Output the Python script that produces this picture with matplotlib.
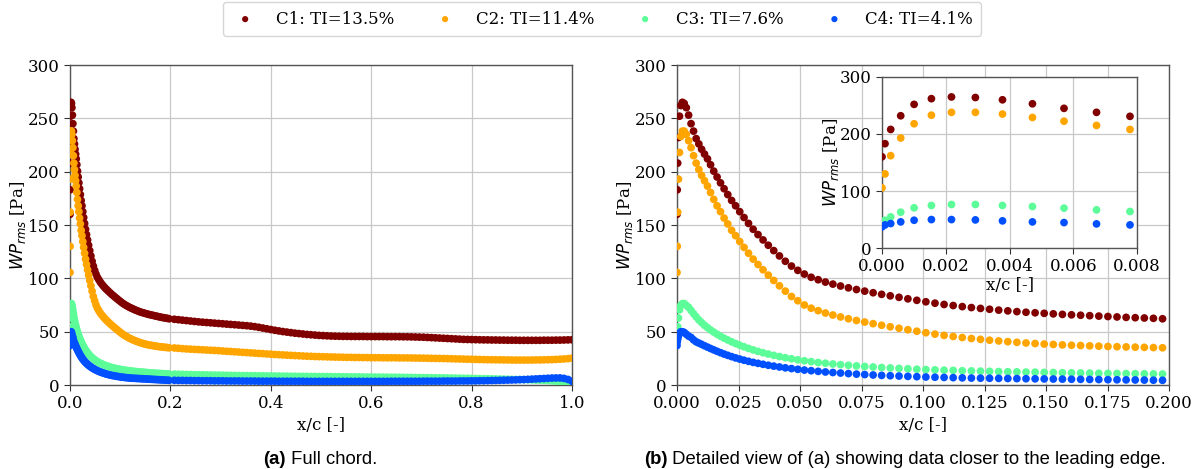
import matplotlib
matplotlib.use("Agg")
import matplotlib.pyplot as plt
import numpy as np

# ---- data -------------------------------------------------------------
labels = ["C1: TI=13.5%", "C2: TI=11.4%", "C3: TI=7.6%", "C4: TI=4.1%"]
colors = ["#800000", "#FFA500", "#5CFC98", "#0050FF"]

# sensor positions near the leading edge
x_le = [0.0, 0.000094, 0.000273, 0.000587, 0.001007, 0.00155, 0.00218, 0.00293,
        0.00378, 0.00472, 0.00571, 0.00673, 0.00778,
        0.00888, 0.01001, 0.01118, 0.01239, 0.01364, 0.01494, 0.01629, 0.01769,
        0.01914, 0.02064, 0.0222, 0.02382, 0.0255, 0.02725, 0.02907, 0.03096,
        0.03293, 0.03498, 0.03711, 0.03933, 0.04164, 0.04404, 0.04653, 0.04911,
        0.05178, 0.05454, 0.05739, 0.06033, 0.06336, 0.06648, 0.06968, 0.07296,
        0.07631, 0.07972, 0.08318, 0.08669, 0.09025, 0.09385, 0.09749, 0.10117,
        0.10487, 0.10857, 0.11227, 0.11597, 0.11967, 0.12337, 0.12707, 0.13077,
        0.13447, 0.13817, 0.14187, 0.14557, 0.14927, 0.15297, 0.15667, 0.16037,
        0.16407, 0.16777, 0.17147, 0.17517, 0.17887, 0.18257, 0.18627, 0.18997,
        0.19367, 0.19737]

c1_le = [160, 183, 208, 232, 252, 262, 265, 264, 260, 253, 245, 238, 231,
         226, 221, 216.5, 212, 206.5, 200.5, 195, 189.5, 184, 178.5, 173, 168,
         162.5, 157, 151.5, 146, 141, 136, 131, 126, 121, 116, 111.5, 107.5, 104,
         101, 98.7, 96.5, 94.6, 92.8, 91.1, 89.5, 88, 86.5, 85, 83.6, 82.2, 80.8,
         79.4, 78, 76.7, 75.5, 74.5, 73.5, 72.6, 71.8, 71.0, 70.2, 69.5, 68.8,
         68.2, 67.7, 67.2, 66.7, 66.2, 65.8, 65.4, 65.0, 64.6, 64.2, 63.8, 63.4,
         63.1, 62.8, 62.5, 62.1]
c2_le = [105.5, 130, 162, 193, 218, 233, 238, 238, 235, 229, 222.5, 215, 208,
         202, 196.5, 191.5, 186.5, 180.5, 174, 168, 162.5, 156.5, 151, 145, 140,
         134.5, 129, 123.5, 118, 113, 108, 103, 98, 93, 88, 83, 79, 75, 72, 69.7,
         67.5, 65.6, 63.8, 62.1, 60.5, 59, 57.5, 56, 54.6, 53.2, 51.8, 50.4, 49,
         47.7, 46.5, 45.5, 44.5, 43.6, 42.8, 42.0, 41.3, 40.6, 40.0, 39.4, 38.9,
         38.4, 38.0, 37.6, 37.3, 37.0, 36.7, 36.4, 36.1, 35.9, 35.7, 35.5, 35.3,
         35.1, 34.9]
c3_le = [45, 48.7, 54.6, 62.8, 70.5, 74.6, 76.3, 76.3, 74.6, 72.8, 69.9, 66.9, 64,
         61, 58.5, 56, 53.8, 51.6, 49.6, 47.6, 45.7, 43.9, 42.2, 40.5, 38.9, 37.3,
         35.8, 34.3, 32.9, 31.5, 30.2, 29, 27.8, 26.7, 25.6, 24.6, 23.6, 22.7,
         21.9, 21.1, 20.4, 19.7, 19.1, 18.5, 17.9, 17.4, 16.9, 16.4, 16.0, 15.6,
         15.2, 14.8, 14.5, 14.2, 13.9, 13.7, 13.4, 13.2, 13.0, 12.8, 12.6, 12.4,
         12.3, 12.1, 12.0, 11.8, 11.7, 11.5, 11.4, 11.3, 11.1, 11.0, 10.9, 10.8,
         10.7, 10.6, 10.5, 10.4, 10.3]
c4_le = [37, 40.5, 42.9, 45.8, 48.7, 49.9, 49.9, 49.3, 47.6, 45.8, 44.6, 42.3, 40.5,
         39.3, 38.1, 36.8, 35.5, 34.2, 32.9, 31.6, 30.3, 29.0, 27.8, 26.6, 25.4,
         24.3, 23.2, 22.2, 21.2, 20.3, 19.4, 18.5, 17.7, 16.9, 16.1, 15.4, 14.7,
         14.0, 13.4, 12.8, 12.2, 11.7, 11.2, 10.7, 10.2, 9.8, 9.4, 9.0, 8.7, 8.4,
         8.1, 7.8, 7.5, 7.3, 7.1, 6.9, 6.7, 6.5, 6.4, 6.3, 6.2, 6.1, 6.0, 5.9, 5.8,
         5.7, 5.6, 5.5, 5.4, 5.3, 5.2, 5.1, 5.0, 4.9, 4.8, 4.7, 4.6, 4.5, 4.4]

# sensor positions over the rest of the chord
x_chord = [0.208, 0.216, 0.224, 0.232, 0.240, 0.248, 0.256, 0.264, 0.272, 0.280,
           0.288, 0.296, 0.304, 0.312, 0.320, 0.328, 0.336, 0.344, 0.352, 0.360,
           0.368, 0.376, 0.384, 0.392, 0.400, 0.408, 0.416, 0.424, 0.432, 0.440,
           0.448, 0.456, 0.464, 0.472, 0.480, 0.488, 0.496, 0.504, 0.512, 0.520,
           0.528, 0.536, 0.544, 0.552, 0.560, 0.568, 0.576, 0.584, 0.592, 0.600,
           0.608, 0.616, 0.624, 0.632, 0.640, 0.648, 0.656, 0.664, 0.672, 0.680,
           0.688, 0.696, 0.704, 0.712, 0.720, 0.728, 0.736, 0.744, 0.752, 0.760,
           0.768, 0.776, 0.784, 0.792, 0.800, 0.808, 0.816, 0.824, 0.832, 0.840,
           0.848, 0.856, 0.864, 0.872, 0.880, 0.888, 0.896, 0.904, 0.912, 0.920,
           0.928, 0.936, 0.944, 0.952, 0.960, 0.968, 0.976, 0.984, 0.992, 1.000]

c1_chord = [61.6, 61.2, 60.8, 60.4, 60.0, 59.6, 59.2, 58.9, 58.6, 58.3,
            58.0, 57.7, 57.4, 57.1, 56.8, 56.5, 56.2, 55.9, 55.6, 55.2,
            54.7, 54.1, 53.4, 52.7, 52.0, 51.3, 50.7, 50.1, 49.6, 49.1,
            48.6, 48.2, 47.8, 47.4, 47.1, 46.8, 46.5, 46.3, 46.1, 45.9,
            45.8, 45.7, 45.6, 45.6, 45.5, 45.5, 45.5, 45.5, 45.4, 45.4,
            45.4, 45.4, 45.4, 45.3, 45.3, 45.3, 45.3, 45.2, 45.2, 45.1,
            45.0, 44.9, 44.8, 44.6, 44.4, 44.2, 44.0, 43.8, 43.6, 43.4,
            43.2, 43.0, 42.8, 42.7, 42.6, 42.5, 42.4, 42.3, 42.3, 42.2,
            42.2, 42.1, 42.1, 42.0, 42.0, 42.0, 41.9, 41.9, 41.9, 41.9,
            41.9, 41.9, 42.0, 42.0, 42.0, 42.1, 42.1, 42.2, 42.3, 42.4]
c2_chord = [34.7, 34.4, 34.1, 33.8, 33.6, 33.4, 33.2, 33.0, 32.8, 32.6,
            32.4, 32.2, 31.9, 31.6, 31.4, 31.1, 30.9, 30.6, 30.4, 30.1,
            29.9, 29.6, 29.4, 29.1, 28.9, 28.6, 28.4, 28.2, 28.0, 27.8,
            27.6, 27.4, 27.2, 27.0, 26.9, 26.7, 26.6, 26.5, 26.4, 26.3,
            26.2, 26.1, 26.0, 25.9, 25.9, 25.8, 25.8, 25.7, 25.7, 25.6,
            25.6, 25.6, 25.5, 25.5, 25.5, 25.5, 25.4, 25.4, 25.4, 25.3,
            25.3, 25.2, 25.2, 25.1, 25.0, 24.9, 24.9, 24.8, 24.7, 24.6,
            24.5, 24.4, 24.3, 24.2, 24.1, 24.0, 23.9, 23.8, 23.7, 23.7,
            23.6, 23.6, 23.5, 23.5, 23.4, 23.4, 23.4, 23.4, 23.4, 23.4,
            23.5, 23.5, 23.6, 23.7, 23.8, 24.0, 24.2, 24.4, 24.7, 25.2]
c3_chord = [10.2, 10.1, 10.0, 9.9, 9.8, 9.7, 9.6, 9.6, 9.5, 9.4,
            9.3, 9.3, 9.2, 9.1, 9.0, 9.0, 8.9, 8.8, 8.8, 8.7,
            8.7, 8.6, 8.6, 8.5, 8.5, 8.4, 8.4, 8.3, 8.3, 8.2,
            8.2, 8.1, 8.1, 8.1, 8.0, 8.0, 7.9, 7.9, 7.9, 7.8,
            7.8, 7.8, 7.7, 7.7, 7.6, 7.6, 7.6, 7.5, 7.5, 7.5,
            7.4, 7.4, 7.4, 7.3, 7.3, 7.3, 7.2, 7.2, 7.1, 7.1,
            7.0, 7.0, 6.9, 6.9, 6.8, 6.8, 6.7, 6.7, 6.6, 6.5,
            6.5, 6.4, 6.3, 6.3, 6.2, 6.1, 6.0, 5.9, 5.9, 5.8,
            5.7, 5.6, 5.5, 5.4, 5.3, 5.2, 5.1, 5.0, 4.9, 4.8,
            4.6, 4.5, 4.3, 4.1, 3.9, 3.6, 3.3, 2.9, 2.5, 2.0]
c4_chord = [4.4, 4.3, 4.3, 4.2, 4.2, 4.1, 4.1, 4.0, 4.0, 4.0,
            3.9, 3.9, 3.9, 3.8, 3.8, 3.8, 3.8, 3.7, 3.7, 3.7,
            3.7, 3.6, 3.6, 3.6, 3.6, 3.6, 3.5, 3.5, 3.5, 3.5,
            3.5, 3.5, 3.5, 3.4, 3.4, 3.4, 3.4, 3.4, 3.4, 3.4,
            3.4, 3.4, 3.4, 3.4, 3.4, 3.4, 3.4, 3.4, 3.4, 3.4,
            3.4, 3.4, 3.4, 3.4, 3.5, 3.5, 3.5, 3.5, 3.5, 3.5,
            3.5, 3.5, 3.6, 3.6, 3.6, 3.6, 3.6, 3.7, 3.7, 3.7,
            3.7, 3.8, 3.8, 3.8, 3.9, 3.9, 4.0, 4.0, 4.1, 4.2,
            4.3, 4.4, 4.5, 4.6, 4.7, 4.8, 5.0, 5.1, 5.3, 5.5,
            5.7, 5.9, 6.1, 6.3, 6.5, 6.6, 6.6, 6.2, 5.2, 3.5]

x_all = np.array(x_le + x_chord)
series = [np.array(c1_le + c1_chord), np.array(c2_le + c2_chord),
          np.array(c3_le + c3_chord), np.array(c4_le + c4_chord)]

# ---- style ------------------------------------------------------------
plt.rcParams["font.family"] = ["DejaVu Serif"]
plt.rcParams["mathtext.fontset"] = "dejavusans"
FS = 12
MS = 31
ylab = r"$WP_{rms}$ [Pa]"

W, H = 1199, 469
fig = plt.figure(figsize=(W / 100, H / 100), dpi=100)


def px_axes(x0, y0, x1, y1):
    return fig.add_axes([x0 / W, 1 - y1 / H, (x1 - x0) / W, (y1 - y0) / H])


def style(ax):
    ax.grid(True, color="#c8c8c8", linewidth=0.9)
    ax.set_axisbelow(True)
    ax.tick_params(labelsize=FS, length=4, width=0.8, color="#333333")
    for s in ax.spines.values():
        s.set_color("#555555")
        s.set_linewidth(1.0)


ax_a = px_axes(70, 65, 572, 385)
ax_b = px_axes(677, 65, 1169, 385)
ax_in = px_axes(882, 77, 1137, 248)

for ax in (ax_a, ax_b, ax_in):
    for y, c, lab in zip(series, colors, labels):
        ax.scatter(x_all, y, s=MS, color=c, edgecolors="none", label=lab,
                   zorder=3)
    style(ax)
    ax.set_ylim(0, 300)
    ax.set_xlabel("x/c [-]", fontsize=FS, labelpad=3)
    ax.set_ylabel(ylab, fontsize=FS, labelpad=-0.5)

ax_a.set_xlim(0, 1.0)
ax_a.set_xticks(np.arange(0, 1.01, 0.2))
ax_a.set_yticks(np.arange(0, 301, 50))

ax_b.set_xlim(0, 0.2)
ax_b.set_xticks(np.arange(0, 0.2001, 0.025))
ax_b.set_yticks(np.arange(0, 301, 50))

ax_in.set_xlim(0, 0.008)
ax_in.set_xticks(np.arange(0, 0.00801, 0.002))
ax_in.set_yticks(np.arange(0, 301, 100))
ax_in.set_facecolor("white")
ax_in.set_zorder(5)
ax_in.xaxis.labelpad = 1
ax_in.yaxis.labelpad = -1

handles, _ = ax_a.get_legend_handles_labels()
fig.legend(handles, labels, loc="center", bbox_to_anchor=(602 / W, 1 - 19 / H),
           ncol=4, fontsize=FS, frameon=True, fancybox=True, markerscale=0.8,
           handlelength=1.7, handletextpad=1.0, columnspacing=2.2,
           borderpad=0.5, edgecolor="#cccccc")

# ---- captions ---------------------------------------------------------
cap_font = dict(family="Liberation Sans", fontsize=13.3)
fig.canvas.draw()
renderer = fig.canvas.get_renderer()


def caption(x_center, y, bold, rest):
    t1 = fig.text(0, 1 - y / H, bold, fontweight="bold", va="center",
                  ha="left", **cap_font)
    t2 = fig.text(0, 1 - y / H, " " + rest, va="center", ha="left", **cap_font)
    w1 = t1.get_window_extent(renderer).width
    w2 = t2.get_window_extent(renderer).width
    x0 = x_center - (w1 + w2) / 2
    t1.set_x(x0 / W)
    t2.set_x((x0 + w1) / W)


caption(320, 459, "(a)", "Full chord.")
caption(905, 459, "(b)", "Detailed view of (a) showing data closer to the leading edge.")

fig.savefig("out.png", dpi=100)
